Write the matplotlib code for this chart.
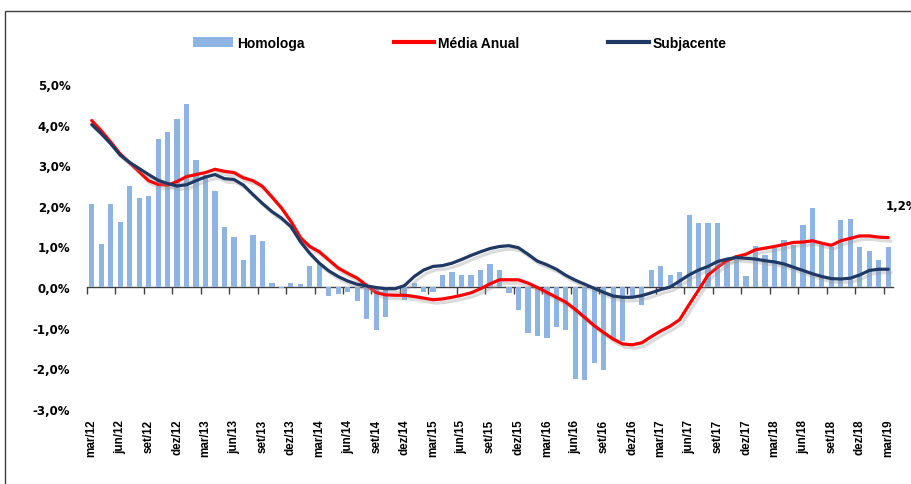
import matplotlib.pyplot as plt
import matplotlib.patheffects as pe
from matplotlib.patches import Rectangle
from matplotlib.ticker import FuncFormatter
import numpy as np

# monthly series, mar/12 .. mar/19
meses = ['jan', 'fev', 'mar', 'abr', 'mai', 'jun', 'jul', 'ago', 'set', 'out', 'nov', 'dez']
datas = [f"{meses[(2 + k) % 12]}/{12 + (2 + k) // 12}" for k in range(85)]

homologa = [2.05, 1.07, 2.05, 1.60, 2.48, 2.20, 2.24, 3.64, 3.82, 4.15,
            4.50, 3.13, 2.75, 2.36, 1.48, 1.23, 0.68, 1.29, 1.13, 0.10,
            -0.02, 0.10, 0.07, 0.51, 0.59, -0.23, -0.16, -0.11, -0.35, -0.78,
            -1.05, -0.74, -0.05, -0.31, 0.10, -0.13, -0.11, 0.29, 0.38, 0.29,
            0.31, 0.42, 0.57, 0.42, -0.15, -0.57, -1.13, -1.21, -1.25, -0.98,
            -1.05, -2.26, -2.29, -1.87, -2.05, -1.30, -1.32, -0.22, -0.45, 0.41,
            0.53, 0.31, 0.38, 1.78, 1.57, 1.59, 1.59, 0.68, 0.79, 0.28,
            1.02, 0.79, 0.96, 1.16, 1.03, 1.54, 1.96, 1.04, 1.00, 1.65,
            1.68, 0.98, 0.89, 0.67, 0.98]

media_anual = [4.10, 3.85, 3.57, 3.28, 3.06, 2.84, 2.62, 2.53, 2.51, 2.60,
               2.72, 2.77, 2.82, 2.90, 2.85, 2.82, 2.69, 2.62, 2.48, 2.22,
               1.95, 1.62, 1.22, 1.00, 0.87, 0.67, 0.47, 0.34, 0.22, 0.04,
               -0.13, -0.19, -0.20, -0.20, -0.23, -0.27, -0.31, -0.29, -0.25, -0.20,
               -0.14, -0.04, 0.08, 0.18, 0.18, 0.18, 0.10, -0.01, -0.13, -0.25,
               -0.37, -0.55, -0.75, -0.95, -1.12, -1.28, -1.40, -1.42, -1.37, -1.22,
               -1.08, -0.96, -0.80, -0.43, -0.07, 0.30, 0.49, 0.65, 0.75, 0.81,
               0.92, 0.96, 1.00, 1.05, 1.10, 1.11, 1.14, 1.08, 1.03, 1.14,
               1.20, 1.26, 1.26, 1.23, 1.22]

subjacente = [4.00, 3.78, 3.53, 3.25, 3.07, 2.92, 2.77, 2.63, 2.55, 2.49,
              2.52, 2.62, 2.71, 2.77, 2.67, 2.65, 2.51, 2.28, 2.06, 1.86,
              1.70, 1.49, 1.12, 0.83, 0.59, 0.40, 0.26, 0.15, 0.07, 0.03,
              -0.01, -0.04, -0.04, 0.04, 0.26, 0.42, 0.51, 0.53, 0.59, 0.68,
              0.78, 0.87, 0.95, 1.00, 1.02, 0.97, 0.81, 0.64, 0.55, 0.44,
              0.29, 0.17, 0.07, -0.03, -0.13, -0.22, -0.25, -0.25, -0.21, -0.14,
              -0.06, 0.00, 0.15, 0.30, 0.42, 0.51, 0.63, 0.69, 0.73, 0.71,
              0.69, 0.65, 0.62, 0.57, 0.49, 0.41, 0.33, 0.26, 0.21, 0.20,
              0.22, 0.30, 0.41, 0.44, 0.44]

W, H = 911, 485
fig = plt.figure(figsize=(W / 100, H / 100), dpi=100)
ax = fig.add_axes([87 / W, 1 - 410 / H, (893 - 87) / W, (410 - 85) / H])

x = np.arange(len(datas))
shadow = [pe.SimpleLineShadow(offset=(2, -2.5), shadow_color='#9a9a9a', alpha=0.35), pe.Normal()]

bars = ax.bar(x, homologa, width=0.55, color='#8DB4E2', label='Homologa', zorder=2)
l_media, = ax.plot(x, media_anual, color='#FF0000', lw=2.3, label='Média Anual', zorder=3,
                   path_effects=shadow, solid_capstyle='round')
l_subj, = ax.plot(x, subjacente, color='#1F3864', lw=2.3, label='Subjacente', zorder=4,
                  path_effects=shadow, solid_capstyle='round')

ax.set_xlim(-0.5, len(datas) - 0.5)
ax.set_ylim(-3, 5)
ax.set_yticks(np.arange(-3, 6, 1))
ax.yaxis.set_major_formatter(FuncFormatter(lambda v, p: f"{v:.1f}%".replace('.', ',')))
for s in ax.spines.values():
    s.set_visible(False)
ax.tick_params(axis='y', length=0, pad=12)
for t in ax.get_yticklabels():
    t.set_fontfamily('DejaVu Sans')
    t.set_fontweight('bold')
    t.set_fontsize(8.5)

ax.set_xticks(x[::3])
ax.set_xticklabels(datas[::3], rotation=90, fontsize=8.4, fontweight='bold',
                   fontfamily='Liberation Sans')
ax.tick_params(axis='x', length=0, pad=7)

# category axis crossing at zero, ticks between categories
zero_ax = ax.secondary_xaxis(0, transform=ax.transData)
zero_ax.set_xticks(np.arange(-0.5, len(datas), 3))
zero_ax.tick_params(length=5, width=1, color='#404040', labelbottom=False)
zero_ax.spines['bottom'].set_color('#404040')
zero_ax.spines['bottom'].set_linewidth(1)

ax.annotate('1,2%', (x[-1], media_anual[-1]), xytext=(-3, 32), textcoords='offset pixels',
            ha='left', va='center', fontsize=8.5, fontweight='bold',
            fontfamily='DejaVu Sans', annotation_clip=False)

leg_media = plt.Line2D([], [], color='#FF0000', lw=3)
leg_subj = plt.Line2D([], [], color='#1F3864', lw=3)
fig.legend([bars, leg_media, leg_subj], ['Homologa', 'Média Anual', 'Subjacente'],
           loc='center', bbox_to_anchor=(460 / W, 1 - 44 / H), ncol=3, frameon=False,
           prop={'family': 'Liberation Sans', 'weight': 'bold', 'size': 10},
           handlelength=2.9, handleheight=0.7, handletextpad=0.3, columnspacing=6.4)

fig.add_artist(Rectangle((5 / W, -0.1), 1.0, 1.1 - 12 / H, transform=fig.transFigure,
                         fill=False, ec='#404040', lw=1))

fig.savefig('out.png', dpi=100)
